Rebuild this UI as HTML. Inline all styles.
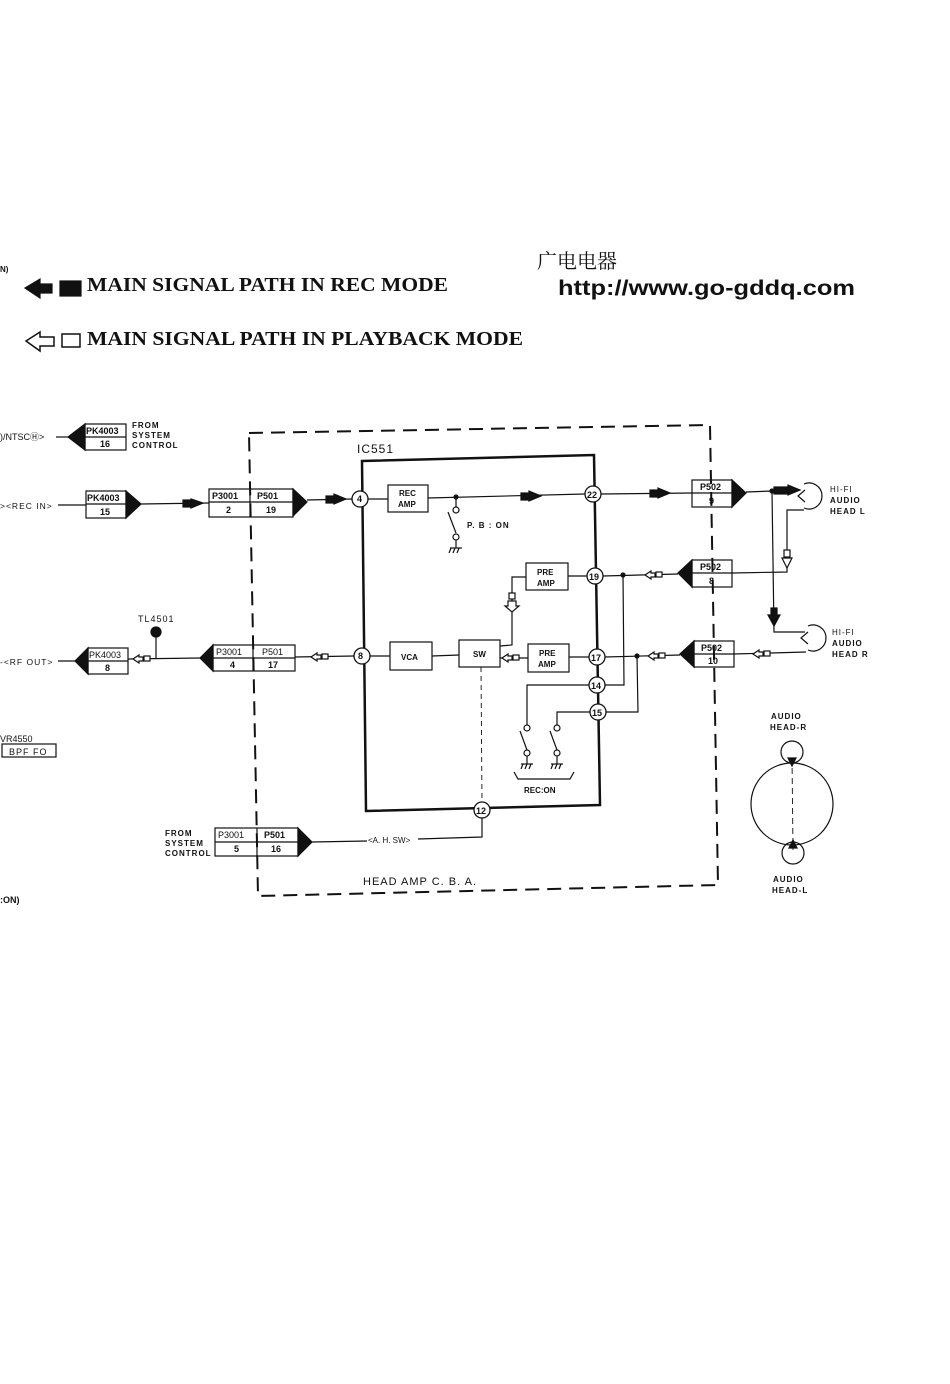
<!DOCTYPE html>
<html><head><meta charset="utf-8"><style>
html,body{margin:0;padding:0;background:#fff;}
svg{display:block;}
text{font-family:"Liberation Sans",sans-serif;fill:#111;}
.s{font-size:9px;font-weight:bold;}
.t{font-size:9.5px;letter-spacing:1px;}
</style></head><body>
<svg width="950" height="1384" viewBox="0 0 950 1384" xmlns="http://www.w3.org/2000/svg" stroke="#111" fill="none" stroke-width="1.2">
<!-- header -->
<text x="537" y="268" stroke="none" style="font-family:'Liberation Serif','Noto Serif CJK SC',serif;font-size:20px;">广电电器</text>
<text x="558" y="295" stroke="none" textLength="297" lengthAdjust="spacingAndGlyphs" style="font-size:21px;font-weight:bold;">http://www.go-gddq.com</text>
<text x="0" y="272" stroke="none" class="s" style="font-size:8px">N)</text>
<!-- legend -->
<polygon points="25,288 40,279 40,284 52,284 52,293 40,293 40,298" fill="#111"/>
<rect x="60" y="281" width="21" height="15" fill="#111"/>
<text x="87" y="291" stroke="none" textLength="361" lengthAdjust="spacingAndGlyphs" style="font-family:'Liberation Serif',serif;font-size:20px;font-weight:bold;">MAIN SIGNAL PATH IN REC MODE</text>
<polygon points="26,341 40,332 40,337 54,337 54,346 40,346 40,351" stroke-width="1.5"/>
<rect x="62" y="334" width="18" height="13" stroke-width="1.5"/>
<text x="87" y="345" stroke="none" textLength="436" lengthAdjust="spacingAndGlyphs" style="font-family:'Liberation Serif',serif;font-size:20px;font-weight:bold;">MAIN SIGNAL PATH IN PLAYBACK MODE</text>

<!-- HEAD AMP dashed box -->
<g stroke-width="2" stroke-dasharray="14,8">
<path d="M249,433 L710,425 L718,885 L258,896 L249,433"/>
</g>
<text x="363" y="885" stroke="none" class="t" style="font-size:11px">HEAD AMP C. B. A.</text>

<!-- IC551 -->
<path d="M362,461 L594,455 L600,805 L366,811 Z" stroke-width="2.5"/>
<text x="357" y="453" stroke="none" class="t" style="font-size:12px">IC551</text>

<!-- top-left PK4003 16 -->
<polygon points="68,437 85,424 85,450" fill="#111"/>
<rect x="85" y="424" width="41" height="26"/>
<line x1="85" y1="437" x2="126" y2="437"/>
<text x="86" y="434" stroke="none" class="s">PK4003</text>
<text x="100" y="447" stroke="none" class="s">16</text>
<text x="132" y="428" stroke="none" class="s" style="font-size:8px;letter-spacing:1px">FROM</text>
<text x="132" y="438" stroke="none" class="s" style="font-size:8px;letter-spacing:1px">SYSTEM</text>
<text x="132" y="448" stroke="none" class="s" style="font-size:8px;letter-spacing:1px">CONTROL</text>
<line x1="56" y1="437" x2="68" y2="437"/>
<text x="0" y="440" stroke="none" class="s" style="font-weight:normal">)/NTSC&#9405;&gt;</text>

<!-- REC IN -->
<text x="0" y="509" stroke="none" class="t" style="font-size:8.5px">&gt;&lt;REC IN&gt;</text>
<line x1="58" y1="505" x2="86" y2="505"/>
<rect x="86" y="491" width="40" height="27"/>
<line x1="86" y1="504" x2="126" y2="504"/>
<text x="87" y="501" stroke="none" class="s">PK4003</text>
<text x="100" y="515" stroke="none" class="s">15</text>
<polygon points="126,491 141,504 126,518" fill="#111"/>
<line x1="141" y1="504" x2="209" y2="503"/>
<rect x="183" y="500" width="8" height="7" fill="#111"/><polygon points="191,499 203,503 191,508" fill="#111"/>
<rect x="209" y="489" width="84" height="28"/>
<line x1="209" y1="502" x2="293" y2="502"/><line x1="250" y1="489" x2="250" y2="517"/>
<text x="212" y="499" stroke="none" class="s">P3001</text><text x="257" y="499" stroke="none" class="s">P501</text>
<text x="226" y="513" stroke="none" class="s">2</text><text x="266" y="513" stroke="none" class="s">19</text>
<polygon points="293,489 307,502 293,516" fill="#111"/>
<line x1="307" y1="500" x2="352" y2="499"/>
<rect x="326" y="496" width="8" height="7" fill="#111"/><polygon points="334,494 346,499 334,504" fill="#111"/>

<!-- RF OUT -->
<text x="0" y="665" stroke="none" class="t" style="font-size:8.5px">-&lt;RF OUT&gt;</text>
<line x1="58" y1="661" x2="75" y2="661"/>
<polygon points="75,661 88,648 88,674" fill="#111"/>
<rect x="88" y="648" width="40" height="26"/>
<line x1="88" y1="661" x2="128" y2="661"/>
<text x="89" y="658" stroke="none" class="s" style="font-weight:normal">PK4003</text>
<text x="105" y="671" stroke="none" class="s">8</text>
<line x1="128" y1="659" x2="200" y2="658"/>
<polygon points="133,659 139,655 139,657 143,657 143,661 139,661 139,663" fill="#fff"/><rect x="144" y="656" width="6" height="5" fill="#fff"/>
<line x1="156" y1="632" x2="156" y2="659"/>
<circle cx="156" cy="632" r="5" fill="#111"/>
<text x="138" y="622" stroke="none" class="s" style="font-weight:normal;letter-spacing:1px">TL4501</text>
<polygon points="200,658 213,645 213,671" fill="#111"/>
<rect x="213" y="645" width="82" height="26"/>
<line x1="213" y1="658" x2="295" y2="658"/><line x1="253" y1="645" x2="253" y2="671"/>
<text x="216" y="655" stroke="none" class="s" style="font-weight:normal">P3001</text><text x="262" y="655" stroke="none" class="s" style="font-weight:normal">P501</text>
<text x="230" y="668" stroke="none" class="s">4</text><text x="268" y="668" stroke="none" class="s">17</text>
<line x1="295" y1="657" x2="354" y2="656"/>
<polygon points="311,657 317,653 317,655 321,655 321,659 317,659 317,661" fill="#fff"/><rect x="322" y="654" width="6" height="5" fill="#fff"/>

<!-- VR4550 -->
<text x="0" y="742" stroke="none" class="s" style="font-weight:normal">VR4550</text>
<rect x="2" y="744" width="54" height="13"/>
<text x="9" y="755" stroke="none" class="s" style="font-weight:normal;letter-spacing:1px">BPF FO</text>
<text x="0" y="903" stroke="none" class="s">:ON)</text>

<!-- bottom A.H.SW -->
<text x="165" y="836" stroke="none" class="s" style="font-size:8px;letter-spacing:1px">FROM</text>
<text x="165" y="846" stroke="none" class="s" style="font-size:8px;letter-spacing:1px">SYSTEM</text>
<text x="165" y="856" stroke="none" class="s" style="font-size:8px;letter-spacing:1px">CONTROL</text>
<rect x="215" y="828" width="83" height="28"/>
<line x1="215" y1="842" x2="298" y2="842"/><line x1="257" y1="828" x2="257" y2="856"/>
<text x="218" y="838" stroke="none" class="s" style="font-weight:normal">P3001</text><text x="264" y="838" stroke="none" class="s">P501</text>
<text x="234" y="852" stroke="none" class="s">5</text><text x="271" y="852" stroke="none" class="s">16</text>
<polygon points="298,828 312,842 298,856" fill="#111"/>
<line x1="312" y1="842" x2="367" y2="841"/>
<text x="368" y="843" stroke="none" class="s" style="font-size:8px;font-weight:normal">&lt;A. H. SW&gt;</text>
<polyline points="418,839 482,837 482,818"/>

<!-- pins -->
<g fill="#fff" stroke-width="1.3">
<circle cx="360" cy="499" r="8"/><circle cx="362" cy="656" r="8"/>
<circle cx="593" cy="494" r="8"/><circle cx="595" cy="576" r="8"/>
<circle cx="597" cy="657" r="8"/><circle cx="597" cy="685" r="8"/>
<circle cx="598" cy="712" r="8"/><circle cx="482" cy="810" r="8"/>
</g>
<g stroke="none" class="s">
<text x="357" y="502">4</text><text x="358" y="659">8</text>
<text x="587" y="498">22</text><text x="589" y="580">19</text>
<text x="591" y="661">17</text><text x="591" y="689">14</text>
<text x="592" y="716">15</text><text x="476" y="814">12</text>
</g>

<!-- inside IC -->
<line x1="368" y1="499" x2="388" y2="499"/>
<rect x="388" y="485" width="40" height="27"/>
<text x="399" y="496" stroke="none" class="s" style="font-size:8px">REC</text>
<text x="398" y="507" stroke="none" class="s" style="font-size:8px">AMP</text>
<line x1="428" y1="498" x2="585" y2="494"/>
<rect x="521" y="493" width="8" height="7" fill="#111"/><polygon points="529,491 541,496 529,501" fill="#111"/>
<circle cx="456" cy="497" r="2" fill="#111"/>
<line x1="456" y1="497" x2="456" y2="507"/><circle cx="456" cy="510" r="3"/>
<line x1="448" y1="512" x2="456" y2="533"/><circle cx="456" cy="537" r="3"/>
<line x1="456" y1="540" x2="456" y2="548"/><line x1="450" y1="548" x2="462" y2="548"/>
<line x1="451" y1="548" x2="449" y2="553"/><line x1="455" y1="548" x2="453" y2="553"/><line x1="459" y1="548" x2="457" y2="553"/>
<text x="467" y="528" stroke="none" class="s" style="font-size:8px;letter-spacing:1px">P. B : ON</text>

<rect x="526" y="563" width="42" height="27"/>
<text x="537" y="575" stroke="none" class="s" style="font-size:8px">PRE</text>
<text x="537" y="586" stroke="none" class="s" style="font-size:8px">AMP</text>
<line x1="568" y1="576" x2="587" y2="576"/>
<polyline points="526,577 512,577 512,645 500,646"/>
<rect x="509" y="593" width="6" height="6" fill="#fff"/><polygon points="508,601 516,601 516,606 519,606 512,612 505,606 508,606" fill="#fff"/>

<line x1="370" y1="656" x2="390" y2="656"/>
<rect x="390" y="642" width="42" height="28"/>
<text x="401" y="660" stroke="none" class="s" style="font-size:8px">VCA</text>
<line x1="432" y1="656" x2="459" y2="655"/>
<rect x="459" y="640" width="41" height="27"/>
<text x="473" y="657" stroke="none" class="s" style="font-size:8px">SW</text>
<line x1="500" y1="658" x2="528" y2="658"/>
<polygon points="502,658 508,654 508,656 512,656 512,660 508,660 508,662" fill="#fff"/><rect x="513" y="655" width="6" height="5" fill="#fff"/>
<rect x="528" y="644" width="41" height="28"/>
<text x="539" y="656" stroke="none" class="s" style="font-size:8px">PRE</text>
<text x="538" y="667" stroke="none" class="s" style="font-size:8px">AMP</text>
<line x1="569" y1="657" x2="589" y2="657"/>
<line x1="481" y1="667" x2="482" y2="802" stroke-dasharray="5,4" stroke-width="0.9"/>

<polyline points="589,685 527,685 527,725"/>
<polyline points="590,712 557,712 557,725"/>
<circle cx="527" cy="728" r="3"/><circle cx="557" cy="728" r="3"/>
<line x1="520" y1="731" x2="527" y2="750"/><line x1="550" y1="731" x2="557" y2="750"/>
<circle cx="527" cy="753" r="3"/><circle cx="557" cy="753" r="3"/>
<line x1="527" y1="756" x2="527" y2="764"/><line x1="557" y1="756" x2="557" y2="764"/>
<line x1="521" y1="764" x2="533" y2="764"/><line x1="551" y1="764" x2="563" y2="764"/>
<line x1="523" y1="764" x2="521" y2="769"/><line x1="527" y1="764" x2="525" y2="769"/><line x1="531" y1="764" x2="529" y2="769"/>
<line x1="553" y1="764" x2="551" y2="769"/><line x1="557" y1="764" x2="555" y2="769"/><line x1="561" y1="764" x2="559" y2="769"/>
<polyline points="514,772 518,779 570,779 574,772"/>
<text x="524" y="793" stroke="none" class="s" style="font-size:8px">REC:ON</text>

<!-- right side -->
<line x1="601" y1="494" x2="692" y2="493"/>
<rect x="650" y="490" width="8" height="7" fill="#111"/><polygon points="658,488 670,493 658,498" fill="#111"/>
<rect x="692" y="480" width="40" height="27"/>
<line x1="692" y1="493" x2="732" y2="493"/>
<text x="700" y="490" stroke="none" class="s">P502</text><text x="709" y="504" stroke="none" class="s">9</text>
<polygon points="732,480 746,493 732,507" fill="#111"/>
<line x1="746" y1="492" x2="800" y2="490"/>
<rect x="774" y="487" width="14" height="7" fill="#111"/><polygon points="788,485 800,490 788,495" fill="#111"/>
<circle cx="772" cy="491" r="2" fill="#111"/>
<polyline points="772,491 774,632 805,632"/>
<rect x="771" y="608" width="6" height="8" fill="#111"/><polygon points="768,615 780,615 774,626" fill="#111"/>
<path d="M804,484 A13,13 0 1 1 804,508" /><path d="M805,490 L798,496 L805,502"/>
<polyline points="804,510 787,510 787,572 732,573"/>
<rect x="784" y="550" width="6" height="7" fill="#fff"/><polygon points="782,558 792,558 787,568" fill="#fff"/>
<text x="830" y="492" stroke="none" class="s" style="font-size:8px;letter-spacing:1px;font-weight:normal">HI-FI</text>
<text x="830" y="503" stroke="none" class="s" style="font-size:8px;letter-spacing:1px">AUDIO</text>
<text x="830" y="514" stroke="none" class="s" style="font-size:8px;letter-spacing:1px">HEAD L</text>

<polygon points="678,573 692,560 692,587" fill="#111"/>
<rect x="692" y="560" width="40" height="27"/>
<line x1="692" y1="573" x2="732" y2="573"/>
<text x="700" y="570" stroke="none" class="s">P502</text><text x="709" y="584" stroke="none" class="s">8</text>
<line x1="603" y1="576" x2="678" y2="574"/>
<polygon points="645,575 651,571 651,573 655,573 655,577 651,577 651,579" fill="#fff"/><rect x="656" y="572" width="6" height="5" fill="#fff"/>
<circle cx="623" cy="575" r="2" fill="#111"/>
<polyline points="623,575 624,685 605,685"/>

<path d="M808,626 A13,13 0 1 1 808,650"/><path d="M808,632 L801,638 L808,644"/>
<text x="832" y="635" stroke="none" class="s" style="font-size:8px;letter-spacing:1px;font-weight:normal">HI-FI</text>
<text x="832" y="646" stroke="none" class="s" style="font-size:8px;letter-spacing:1px">AUDIO</text>
<text x="832" y="657" stroke="none" class="s" style="font-size:8px;letter-spacing:1px">HEAD R</text>
<line x1="734" y1="654" x2="806" y2="652"/>
<polygon points="753,654 759,650 759,652 763,652 763,656 759,656 759,658" fill="#fff"/><rect x="764" y="651" width="6" height="5" fill="#fff"/>
<polygon points="680,654 694,641 694,667" fill="#111"/>
<rect x="694" y="641" width="40" height="26"/>
<line x1="694" y1="654" x2="734" y2="654"/>
<text x="701" y="651" stroke="none" class="s">P502</text><text x="708" y="664" stroke="none" class="s">10</text>
<line x1="605" y1="657" x2="680" y2="655"/>
<polygon points="648,656 654,652 654,654 658,654 658,658 654,658 654,660" fill="#fff"/><rect x="659" y="653" width="6" height="5" fill="#fff"/>
<circle cx="637" cy="656" r="2" fill="#111"/>
<polyline points="637,656 638,712 606,712"/>

<!-- drum -->
<text x="771" y="719" stroke="none" class="s" style="font-size:8px;letter-spacing:1px">AUDIO</text>
<text x="770" y="730" stroke="none" class="s" style="font-size:8px;letter-spacing:1px">HEAD-R</text>
<circle cx="792" cy="804" r="41"/>
<circle cx="792" cy="752" r="11"/>
<circle cx="793" cy="853" r="11"/>
<line x1="792" y1="758" x2="793" y2="850" stroke-dasharray="6,4" stroke-width="0.9"/>
<polygon points="788,758 796,758 792,766" fill="#111"/>
<polygon points="789,848 797,848 793,840" fill="#111"/>
<text x="773" y="882" stroke="none" class="s" style="font-size:8px;letter-spacing:1px">AUDIO</text>
<text x="772" y="893" stroke="none" class="s" style="font-size:8px;letter-spacing:1px">HEAD-L</text>
</svg>
</body></html>
